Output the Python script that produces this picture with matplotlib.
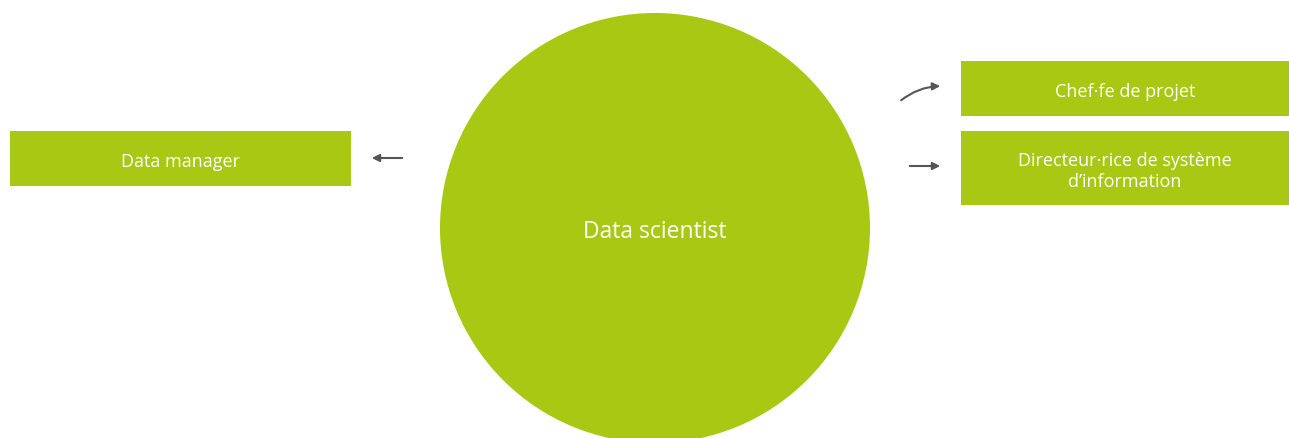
import matplotlib.pyplot as plt
from matplotlib.patches import Circle, Rectangle, FancyArrowPatch

# roles
center_role = "Data scientist"
box_roles = ["Data manager", "Chef·fe de projet", "Directeur·rice de système\nd’information"]

# layout in pixels (x0, y0, x1, y1)
box_xy = [(10, 132, 351, 187), (961, 62, 1289, 117), (961, 132, 1289, 206)]
arrows = [((405, 159), (369, 159), 0.0), ((899, 103), (943, 87), -0.18), ((907, 167), (943, 167), 0.0)]

green = "#a8c813"
arrow_col = "#555555"

plt.rcParams['font.family'] = ['Open Sans', 'DejaVu Sans']

fig = plt.figure(figsize=(12.89, 4.39), dpi=100)
ax = fig.add_axes([0, 0, 1, 1])
ax.set_xlim(0, 1289)
ax.set_ylim(439, 0)
ax.axis('off')

ax.add_patch(Circle((655, 229), 215, color=green, lw=0))
ax.text(655, 232, center_role, color='white', fontsize=16.5, ha='center', va='center')

for (x0, y0, x1, y1), label in zip(box_xy, box_roles):
    ax.add_patch(Rectangle((x0, y0), x1 - x0, y1 - y0, color=green, lw=0))
    ax.text((x0 + x1) / 2, (y0 + y1) / 2 + 2.5, label, color='white', fontsize=13,
            ha='center', va='center', linespacing=1.15)

for start, end, rad in arrows:
    ax.add_patch(FancyArrowPatch(start, end, connectionstyle=f"arc3,rad={rad}",
                                 arrowstyle='-|>', mutation_scale=11,
                                 color=arrow_col, lw=1.5))

fig.savefig('out.png', dpi=100)
